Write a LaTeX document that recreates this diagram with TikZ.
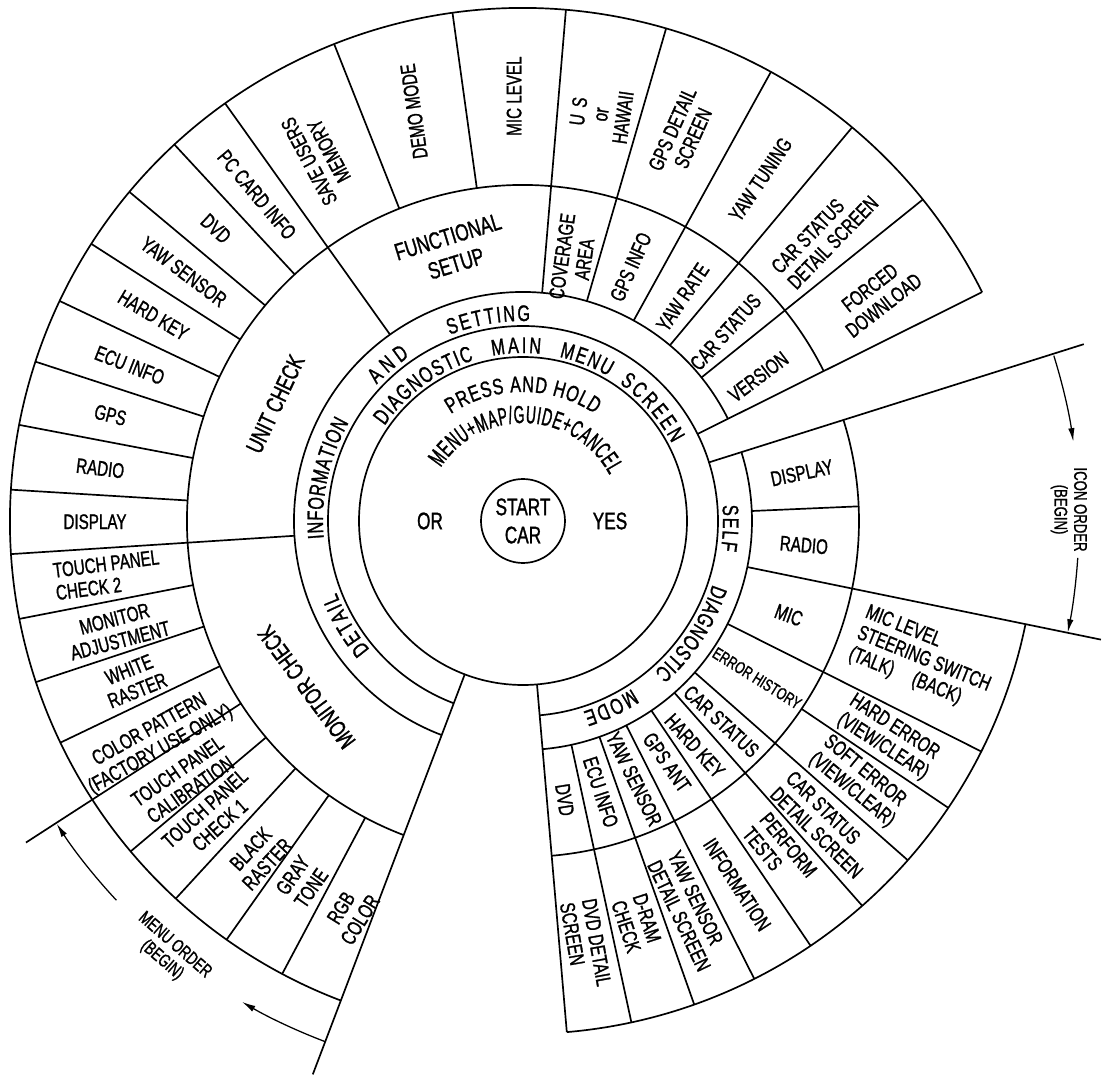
\documentclass[tikz,border=0pt]{standalone}
\usepackage{fontspec}
\setmainfont{Liberation Sans}[FakeStretch=0.72, FakeBold=1.2]
\newfontfamily\narrowfont{Liberation Sans}[FakeStretch=0.56, FakeBold=1.2]
\usetikzlibrary{decorations.text,arrows.meta}

\newcommand{\bandfont}{\fontsize{16}{16}\selectfont}
\newcommand{\pressfont}{\fontsize{16}{16}\selectfont}
\newcommand{\menufont}{\narrowfont\fontsize{17.5}{17.5}\selectfont}

\tikzset{
  wheel/.style={line width=1.2pt},
  cell/.style={font=\fontsize{15}{16}\selectfont, align=center, inner sep=0pt},
  cellleft/.style={cell, align=left},
  head/.style={font=\fontsize{17}{20}\selectfont, align=center, inner sep=0pt},
  tiny/.style={font=\fontsize{12}{13}\selectfont, inner sep=0pt},
  order/.style={font=\fontsize{13}{14}\selectfont, align=center, inner sep=0pt},
  bend text/.style={decorate, decoration={text along path, text align={fit to path}, text={#1}}},
}

\begin{document}
\begin{tikzpicture}[x=0.25mm, y=0.25mm, >={Latex[length=3.4mm,width=1.6mm]}]
  \useasboundingbox (-523,-555) rectangle (597,521);

  % hub
  \node[circle, draw, wheel, minimum size=21mm, inner sep=0pt, font=\fontsize{17}{20}\selectfont, align=center] (start) at (0,0) {START\\CAR};
  \node[font=\fontsize{17}{20}\selectfont] (or) at (-93,0) {OR};
  \node[font=\fontsize{17}{20}\selectfont] (yes) at (87,0) {YES};
  \path[bend text={|\pressfont|PRESS AND HOLD}] (124:129) arc[start angle=124, end angle=56, radius=129];
  \path[bend text={|\menufont|MENU+MAP/GUIDE+CANCEL}] (147:98) arc[start angle=147, end angle=28, radius=98];

  % rings
  \draw[wheel] (0,0) circle[radius=164];
  \draw[wheel] (-85.1:195) arc[start angle=-85.1, end angle=249.2, radius=195];
  \foreach \r in {229,336} {
    \draw[wheel] (-85.1:\r) arc[start angle=-85.1, end angle=17.5, radius=\r];
    \draw[wheel] (26.5:\r) arc[start angle=26.5, end angle=249.2, radius=\r];
  }
  \draw[wheel] (-85.1:513) arc[start angle=-85.1, end angle=-11.6, radius=513];
  \draw[wheel] (26.5:513) arc[start angle=26.5, end angle=249.2, radius=513];

  % dividers
  \draw[wheel] (249.2:164) -- (249.2:592);
  \draw[wheel] (-85.1:164) -- (-85.1:513);
  \draw[wheel] (26.5:195) -- (26.5:513);
  \draw[wheel] (17.5:195) -- (17.5:588);
  \draw[wheel] (-11.6:229) -- (-11.6:590);
  \draw[wheel] (212.9:336) -- (212.9:592);
  \draw[wheel] (2.5:229) -- (2.5:336);
  \foreach \a in {125.5,183.7,85.2,73.8,61.1,50.1,38.8,-26.7,-41.4,-48.6,-55.9,-63.2,-70.5,-77.8}
    \draw[wheel] (\a:229) -- (\a:513);
  \foreach \a in {97.9,111.6,132.8,140.1,147.3,154.6,161.9,169.2,176.5,191,198.3,205.6,220.1,227.4,234.7,242,-34}
    \draw[wheel] (\a:336) -- (\a:513);

  % order marks
  \draw[line width=0.9pt, ->] (249.2:557) arc[start angle=249.2, end angle=239.7, radius=557];
  \draw[line width=0.9pt, ->] (223:556) arc[start angle=223, end angle=213, radius=556];
  \node[order, rotate=-41] (menuorder) at (230.6:559) {MENU ORDER\\(BEGIN)};
  \draw[line width=0.9pt, ->] (17.3:556) arc[start angle=17.3, end angle=8.2, radius=556];
  \draw[line width=0.9pt, ->] (-3.8:556) arc[start angle=-3.8, end angle=-11.6, radius=556];
  \node[order, rotate=-90] (iconorder) at (1.2:546) {ICON ORDER\\(BEGIN)};

  % inner band
  \path[bend text={|\bandfont|DIAGNOSTIC}] (145.5:168) arc[start angle=145.5, end angle=107, radius=168];
  \path[bend text={|\bandfont|MAIN}] (100.5:168) arc[start angle=100.5, end angle=84, radius=168];
  \path[bend text={|\bandfont|MENU}] (77.5:168) arc[start angle=77.5, end angle=59.5, radius=168];
  \path[bend text={|\bandfont|SCREEN}] (55:168) arc[start angle=55, end angle=27.5, radius=168];

  % outer band
  \path[bend text={|\bandfont|DETAIL}] (220:200) arc[start angle=220, end angle=201, radius=200];
  \path[bend text={|\bandfont|INFORMATION}] (185:200) arc[start angle=185, end angle=150.5, radius=200];
  \path[bend text={|\bandfont|AND}] (137:200) arc[start angle=137, end angle=124.5, radius=200];
  \path[bend text={|\bandfont|SETTING}] (111.5:200) arc[start angle=111.5, end angle=88, radius=200];
  \path[bend text={|\bandfont|SELF}] (4.5:200) arc[start angle=4.5, end angle=-8.5, radius=200];
  \path[bend text={|\bandfont|DIAGNOSTIC}] (-18.5:200) arc[start angle=-18.5, end angle=-49, radius=200];
  \path[bend text={|\bandfont|MODE}] (-57:200) arc[start angle=-57, end angle=-72.5, radius=200];

  % middle ring
  \node[head, rotate=17] (functional) at (104.7:280) {FUNCTIONAL\\SETUP};
  \node[head, rotate=64.7] (unitcheck) at (154.7:274) {UNIT CHECK};
  \node[head, rotate=126.5] (monitorcheck) at (217.5:273) {MONITOR CHECK};
  \node[cell, rotate=82] (coverage) at (79.2:268) {COVERAGE\\AREA};
  \node[cell, rotate=66] (gpsinfo) at (67:276) {GPS INFO};
  \node[cell, rotate=56] (yawrate) at (54.5:275) {YAW RATE};
  \node[cell, rotate=48] (carstatus) at (43:277) {CAR STATUS};
  \node[cell, rotate=37] (version) at (31.5:276) {VERSION};
  \node[cell, rotate=12] (selfdisplay) at (9.8:283) {DISPLAY};
  \node[cell, rotate=-5] (selfradio) at (-4.9:282) {RADIO};
  \node[cell, rotate=-20] (selfmic) at (-19.5:282) {MIC};
  \node[tiny, rotate=-32] (errorhistory) at (-33.9:282) {ERROR HISTORY};
  \node[cell, rotate=-43] (selfcarstatus) at (-45.3:282) {CAR STATUS};
  \node[cell, rotate=-48] (selfhardkey) at (-52.6:283) {HARD KEY};
  \node[cell, rotate=-55] (gpsant) at (-59.2:281) {GPS ANT};
  \node[cell, rotate=-64] (selfyawsensor) at (-66.7:281) {YAW SENSOR};
  \node[cell, rotate=-72] (selfecuinfo) at (-74:282) {ECU INFO};
  \node[cell, rotate=-81] (selfdvd) at (-81.5:282) {DVD};

  % outer ring, top and left
  \node[cell, rotate=118] (saveusers) at (119.2:418) {SAVE USERS\\MEMORY};
  \node[cell, rotate=98] (demomode) at (104.9:424) {DEMO MODE};
  \node[cell, rotate=90] (miclevel) at (91.2:425) {MIC LEVEL};
  \node[cell, rotate=82] (ushawaii) at (79.2:414) {U\,\,S\\or\\HAWAII};
  \node[cell, rotate=66] (gpsdetail) at (67.6:419) {GPS DETAIL\\SCREEN};
  \node[cell, rotate=56] (yawtuning) at (55.2:416) {YAW TUNING};
  \node[cellleft, rotate=46] (carstatusdetail) at (43.5:416) {CAR STATUS\\DETAIL SCREEN};
  \node[cell, rotate=38] (forced) at (32.4:419) {FORCED\\DOWNLOAD};
  \node[cell, rotate=-50] (pccard) at (129.2:421) {PC CARD INFO};
  \node[cell, rotate=-43] (dvd) at (136.4:424) {DVD};
  \node[cell, rotate=-37] (yawsensor) at (143.7:421) {YAW SENSOR};
  \node[cell, rotate=-31] (hardkey) at (150.9:423) {HARD KEY};
  \node[cell, rotate=-21.5] (ecuinfo) at (158.4:423) {ECU INFO};
  \node[cell, rotate=-14.5] (gps) at (165.6:426) {GPS};
  \node[cell, rotate=-7] (radio) at (172.9:426) {RADIO};
  \node[cell] (display) at (180.1:428) {DISPLAY};
  \node[cellleft, rotate=7.4] (tpcheck2) at (187.4:419) {TOUCH PANEL\\CHECK 2};
  \node[cell, rotate=14.7] (monitoradj) at (195:420) {MONITOR\\ADJUSTMENT};
  \node[cell, rotate=22] (whiteraster) at (202.2:421) {WHITE\\RASTER};
  \node[cell, rotate=29.2] (colorpattern) at (210.8:428) {COLOR PATTERN\\(FACTORY USE ONLY)};
  \node[cell, rotate=35] (tpcal) at (217.4:427) {TOUCH PANEL\\CALIBRATION};
  \node[cell, rotate=42] (tpcheck1) at (223.6:429) {TOUCH PANEL\\CHECK 1};
  \node[cell, rotate=47] (blackraster) at (231.8:427) {BLACK\\RASTER};
  \node[cell, rotate=55] (graytone) at (238.5:423) {GRAY\\TONE};
  \node[cell, rotate=58] (rgbcolor) at (246.3:429) {RGB\\COLOR};

  % outer ring, lower right
  \node[cellleft, rotate=-22] (steering) at (-19.1:424) {MIC LEVEL\\STEERING SWITCH\\(TALK)\quad(BACK)};
  \node[cellleft, rotate=-33] (harderror) at (-30.6:425) {HARD ERROR\\(VIEW/CLEAR)};
  \node[cellleft, rotate=-39.5] (softerror) at (-37.8:425) {SOFT ERROR\\(VIEW/CLEAR)};
  \node[cellleft, rotate=-44.5] (selfcardetail) at (-45.2:428) {CAR STATUS\\DETAIL SCREEN};
  \node[cellleft, rotate=-50.5] (perform) at (-52.2:419) {PERFORM\\TESTS};
  \node[cell, rotate=-57] (information) at (-59.5:422) {INFORMATION};
  \node[cellleft, rotate=-64.5] (yawdetail) at (-66.9:424) {YAW SENSOR\\DETAIL SCREEN};
  \node[cellleft, rotate=-72] (dram) at (-74.2:418) {D-RAM\\CHECK};
  \node[cellleft, rotate=-80] (dvddetail) at (-81.6:428) {DVD DETAIL\\SCREEN};
\end{tikzpicture}
\end{document}
